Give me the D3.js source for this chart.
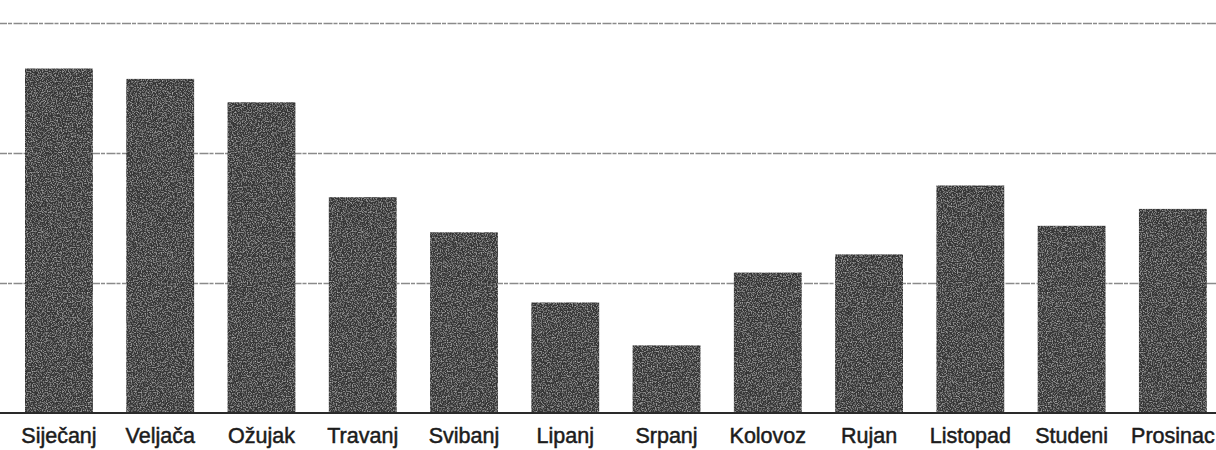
<!DOCTYPE html>
<html>
<head>
<meta charset="utf-8">
<script src="https://cdn.jsdelivr.net/npm/d3@7"></script>
<style>
  body { margin: 0; background: #fff; }
  svg { display: block; }
</style>
</head>
<body>
<script>
// monthly values (grid step = 100)
const months = ["Siječanj", "Veljača", "Ožujak", "Travanj", "Svibanj", "Lipanj",
                "Srpanj", "Kolovoz", "Rujan", "Listopad", "Studeni", "Prosinac"];
const values = [265, 257, 239, 166, 139, 85, 52, 108, 122, 175, 144, 157];
const gridTicks = [100, 200, 300];

const width = 1216, height = 450;

let svg = d3.select("body")
    .append("svg")
        .attr("width", width)
        .attr("height", height);

// speckled scan look for the bars
let defs = svg.append("defs");
let noise = defs.append("filter")
    .attr("id", "grain")
    .attr("x", 0).attr("y", 0).attr("width", 1).attr("height", 1);
noise.append("feTurbulence")
    .attr("type", "fractalNoise")
    .attr("baseFrequency", 0.8)
    .attr("numOctaves", 2)
    .attr("seed", 3)
    .attr("result", "noise");
noise.append("feColorMatrix")
    .attr("in", "noise")
    .attr("type", "matrix")
    .attr("values", "0 0 0 0 0.42  0 0 0 0 0.42  0 0 0 0 0.42  0 0 0 -2.4 1.3")
    .attr("result", "specks");
noise.append("feComposite")
    .attr("in", "specks")
    .attr("in2", "SourceGraphic")
    .attr("operator", "atop");

let xScale = d3.scaleBand()
    .domain(months)
    .range([8.3, 1223.5])
    .paddingInner(0.33)
    .paddingOuter(0.165);

let yScale = d3.scaleLinear()
    .domain([0, 300])
    .range([413, 23]);

// horizontal grid lines, no labels
let yAxis = d3.axisLeft(yScale)
    .tickValues(gridTicks)
    .tickSize(-width)
    .tickFormat("");

let grid = svg.append("g")
    .attr("class", "yAxis")
    .attr("transform", `translate(${width}, 0)`)
    .call(yAxis);
grid.select(".domain").remove();
grid.selectAll("line")
    .attr("x2", -width)
    .attr("x1", 0)
    .attr("stroke", "#8a8a8a")
    .attr("stroke-width", 1.6)
    .attr("stroke-dasharray", "9 1.5 4 1");

// bars
svg.append("g")
    .attr("class", "bars")
    .selectAll("rect")
    .data(values)
    .enter()
        .append("rect")
            .attr("x", (d, i) => xScale(months[i]))
            .attr("y", d => yScale(d))
            .attr("width", xScale.bandwidth())
            .attr("height", d => yScale(0) - yScale(d))
            .attr("fill", "#343434")
            .attr("filter", "url(#grain)");

// baseline + month labels
let xAxis = d3.axisBottom(xScale)
    .tickSize(0)
    .tickPadding(0);

let xg = svg.append("g")
    .attr("class", "xAxis")
    .attr("transform", `translate(0, ${yScale(0)})`)
    .call(xAxis);
xg.select(".domain")
    .attr("d", `M0,0H${width}`)
    .attr("stroke", "#2a2a2a")
    .attr("stroke-width", 2.2);
xg.selectAll("text")
    .attr("y", 30)
    .attr("dy", 0)
    .attr("fill", "#1c1c1c")
    .attr("stroke", "#1c1c1c")
    .attr("stroke-width", 0.5)
    .style("font-family", "'Liberation Sans', Arial, sans-serif")
    .style("font-size", "21.5px");
</script>
</body>
</html>
